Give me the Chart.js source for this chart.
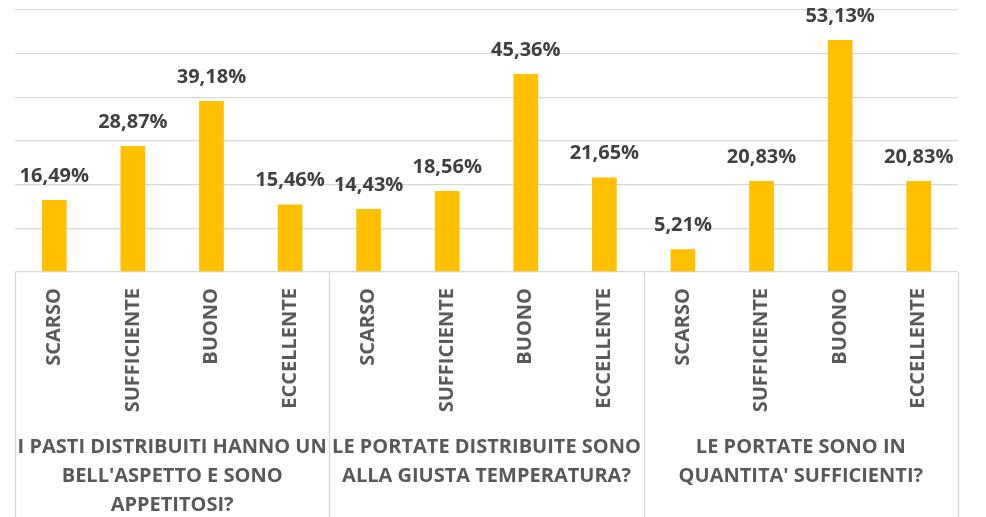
<!DOCTYPE html>
<html>
<head>
<meta charset="utf-8">
<script src="https://cdn.jsdelivr.net/npm/chart.js@4/dist/chart.umd.min.js"></script>
<style>
  html, body { margin: 0; padding: 0; background: #ffffff; }
  #wrap { width: 986px; height: 517px; }
</style>
</head>
<body>
<div id="wrap"><canvas id="c" width="986" height="517"></canvas></div>
<script>
const ratings = ["SCARSO", "SUFFICIENTE", "BUONO", "ECCELLENTE"];
const groups = [
  ["I PASTI DISTRIBUITI HANNO UN", "BELL'ASPETTO E SONO", "APPETITOSI?"],
  ["LE PORTATE DISTRIBUITE SONO", "ALLA GIUSTA TEMPERATURA?"],
  ["LE PORTATE SONO IN", "QUANTITA' SUFFICIENTI?"]
];
const valuesAspetto = [16.49, 28.87, 39.18, 15.46];
const valuesTemperatura = [14.43, 18.56, 45.36, 21.65];
const valuesQuantita = [5.21, 20.83, 53.13, 20.83];
const yTicks = [0, 10, 20, 30, 40, 50, 60];

const labels = [...ratings, ...ratings, ...ratings];
const values = [...valuesAspetto, ...valuesTemperatura, ...valuesQuantita];

const FONT = "'Open Sans', 'DejaVu Sans', sans-serif";

const overlay = {
  id: 'overlay',
  afterDatasetsDraw(chart) {
    const ctx = chart.ctx;
    const meta = chart.getDatasetMeta(0);
    ctx.save();
    ctx.font = "bold 20px " + FONT;
    ctx.fillStyle = '#404040';
    ctx.textAlign = 'center';
    ctx.textBaseline = 'alphabetic';
    meta.data.forEach((bar, i) => {
      const txt = values[i].toFixed(2).replace('.', ',') + '%';
      ctx.fillText(txt, bar.x, bar.y - 18);
    });
    ctx.restore();
  },
  afterDraw(chart) {
    const ctx = chart.ctx;
    const x = chart.scales.x;
    const area = chart.chartArea;
    const n = ratings.length;
    const step = x.getPixelForTick(1) - x.getPixelForTick(0);
    ctx.save();
    ctx.strokeStyle = '#d9d9d9';
    ctx.lineWidth = 1.3;
    const bounds = [];
    for (let g = 0; g <= groups.length; g++) {
      const idx = g * n;
      const px = (idx < labels.length ? x.getPixelForTick(idx) : x.getPixelForTick(idx - 1) + step) - step / 2;
      bounds.push(px);
      ctx.beginPath();
      ctx.moveTo(Math.round(px) + 0.5, area.bottom);
      ctx.lineTo(Math.round(px) + 0.5, chart.height);
      ctx.stroke();
    }
    ctx.font = "bold 20px " + FONT;
    ctx.fillStyle = '#595959';
    ctx.textAlign = 'center';
    ctx.textBaseline = 'middle';
    groups.forEach((lines, g) => {
      const cx = (bounds[g] + bounds[g + 1]) / 2;
      lines.forEach((ln, k) => {
        ctx.fillText(ln, cx, area.bottom + 175 + k * 29);
      });
    });
    ctx.restore();
  }
};

new Chart(document.getElementById('c'), {
  type: 'bar',
  data: {
    labels: labels,
    datasets: [{
      data: values,
      backgroundColor: '#FFC000',
      borderWidth: 0,
      barPercentage: 0.314,
      categoryPercentage: 1.0
    }]
  },
  options: {
    responsive: false,
    animation: false,
    layout: { padding: { left: 15, right: 28, top: 10, bottom: 0 } },
    plugins: { legend: { display: false }, tooltip: { enabled: false } },
    scales: {
      x: {
        grid: { display: false },
        border: { display: false },
        ticks: {
          autoSkip: false,
          maxRotation: 90,
          minRotation: 90,
          padding: 8,
          color: '#595959',
          font: { family: FONT, size: 20, weight: 'bold' }
        },
        afterFit(s) { s.height = 245; }
      },
      y: {
        min: 0,
        max: 60,
        afterBuildTicks(s) { s.ticks = yTicks.map(v => ({ value: v })); },
        grid: { color: '#d9d9d9', lineWidth: 1.3, drawTicks: false },
        border: { display: false },
        ticks: { display: false },
        afterFit(s) { s.width = 0; }
      }
    }
  },
  plugins: [overlay]
});
</script>
</body>
</html>
